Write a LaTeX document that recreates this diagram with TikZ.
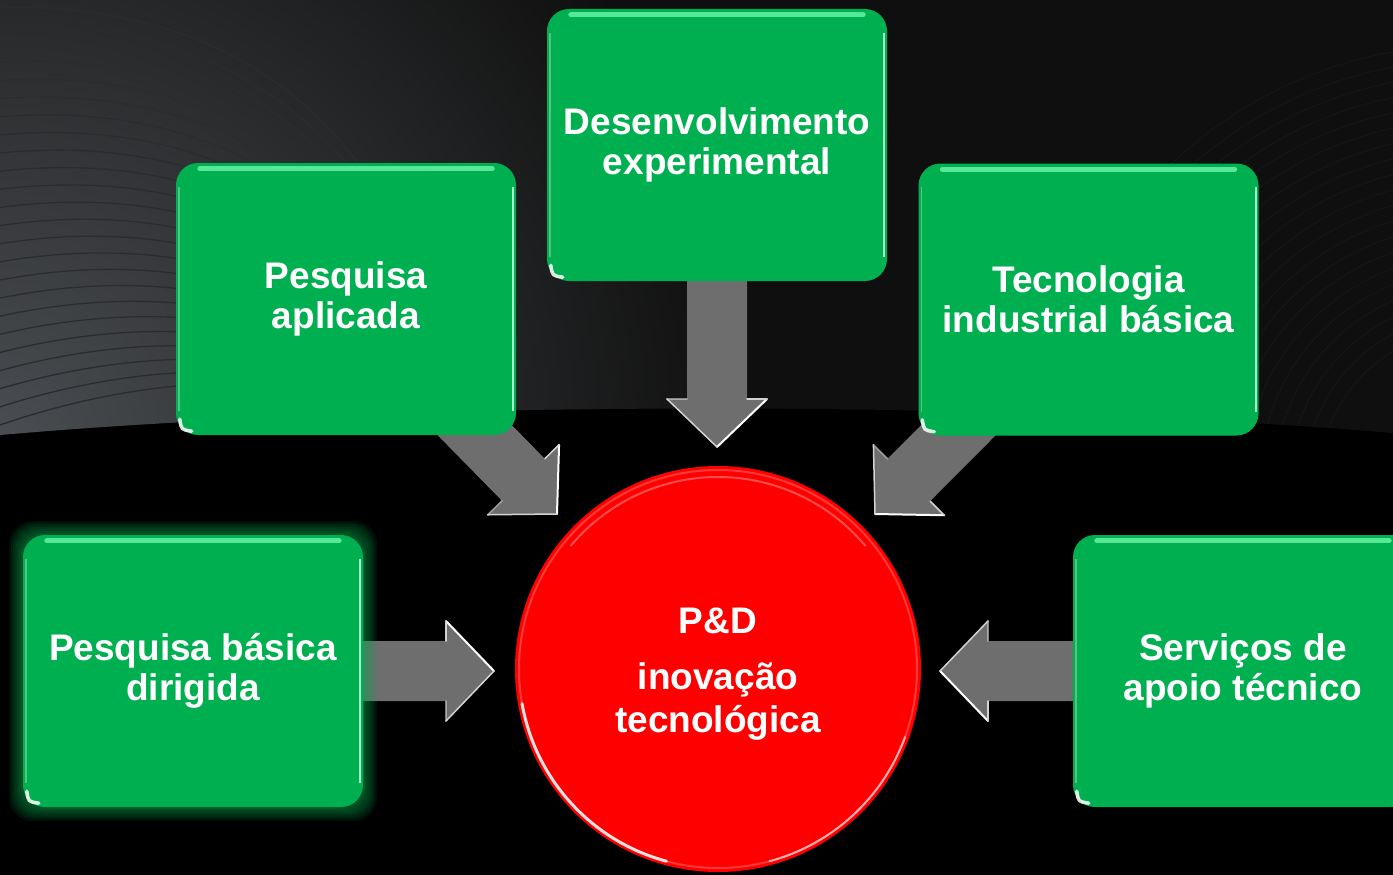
\documentclass[tikz,border=0pt]{standalone}
\usepackage{fontspec}
\setmainfont{Liberation Sans}
\usetikzlibrary{calc}
\definecolor{boxgreen}{HTML}{00B050}
\definecolor{mint}{HTML}{7CFFB8}
\definecolor{arrgray}{HTML}{6E6E6E}
\definecolor{bgA}{HTML}{4A4D51}
\definecolor{bgB}{HTML}{0F0F0F}
\definecolor{wave}{HTML}{2A2C2F}
\definecolor{wavetwo}{HTML}{161616}
\definecolor{circred}{HTML}{FF0000}
\pgfdeclarelayer{bg}
\pgfdeclarelayer{arr}
\pgfsetlayers{bg,arr,main}
\newcommand\boxfont{\fontsize{37}{39.5}\selectfont\bfseries}
\newcommand\hubfont{\fontsize{37}{43}\selectfont\bfseries}
\tikzset{
  greenbox/.style={rectangle, rounded corners=22pt, fill=boxgreen, minimum width=340pt,
    minimum height=272pt, inner sep=0pt, align=center, text=white, font=\boxfont},
  hub/.style={circle, fill=circred, minimum size=406pt, inner sep=0pt},
  hubtext/.style={align=center, text=white, font=\hubfont, inner sep=0pt},
  blockarrow/.style={fill=arrgray},
  bevel/.style={draw=white, line width=2pt, line cap=round},
  bevelsoft/.style={draw=white!70!arrgray, line width=1.5pt, line cap=round},
  waveline/.style={draw=wave, line width=1.3pt},
  glowring/.style={fill=boxgreen, opacity=0.09, rounded corners=24pt},
  cornershine/.style={draw=white, line width=3.5pt, opacity=0.85, line cap=round},
}
\newcommand\pdarrow[2]{%
  \coordinate (ba-h) at ($(#2)!48pt!(#1)$);
  \fill[blockarrow] ($(#1)!30pt!90:(#2)$) -- ($(ba-h)!30pt!90:(#2)$) -- ($(ba-h)!50pt!90:(#2)$)
     -- (#2) -- ($(ba-h)!50pt!-90:(#2)$) -- ($(ba-h)!30pt!-90:(#2)$) -- ($(#1)!30pt!-90:(#2)$) -- cycle;
  \draw[bevel] ($(ba-h)!50pt!90:(#2)$) -- (#2);
  \draw[bevelsoft] (#2) -- ($(ba-h)!50pt!-90:(#2)$);
  \draw[bevelsoft] ($(ba-h)!30pt!90:(#2)$) -- ($(ba-h)!50pt!90:(#2)$);
  \draw[bevelsoft, opacity=0.6] ($(ba-h)!30pt!-90:(#2)$) -- ($(ba-h)!50pt!-90:(#2)$);
}
\newcommand\gloss[1]{%
  \draw[mint, line width=5pt, opacity=0.7, line cap=round] ($(#1.north west)+(24,6)$) -- ($(#1.north east)+(-24,6)$);
  \draw[mint!50!white, line width=2pt, opacity=0.9] ($(#1.north east)+(-3,24)$) -- ($(#1.south east)+(-3,-24)$);
  \draw[white!60!boxgreen, line width=1.5pt, opacity=0.5] ($(#1.north west)+(3,24)$) -- ($(#1.south west)+(3,-24)$);
  \draw[cornershine] ($(#1.south west)+(4,-16)$) .. controls ($(#1.south west)+(5.5,-5.5)$) .. ($(#1.south west)+(16,-4)$);
}
\begin{document}
\begin{tikzpicture}[x=1pt,y=-1pt]
\useasboundingbox (0,0) rectangle (1393,875);
% background
\begin{pgfonlayer}{bg}
  \fill[black] (0,0) rectangle (1393,875);
  \begin{scope}
    \clip (0,0) -- (1393,0) -- (1393,433) .. controls (1000,400) and (400,400) .. (0,435) -- cycle;
    \fill[bgB] (0,0) rectangle (1393,440);
    \shade[inner color=bgA, outer color=bgB] (0,440) circle [radius=750pt];
    \foreach \i in {0,...,23}{
      \pgfmathsetmacro\t{\i/23}
      \draw[waveline] (0,{8+417*\t}) .. controls ({250-120*\t},{0+380*\t}) and ({430-130*\t},{150+210*\t}) .. ({440-40*\t},{420+5*\t});
    }
    \foreach \r in {150,165,...,440}{
      \draw[wavetwo, line width=1pt] (1470,480) circle [radius=\r];
    }
  \end{scope}
\end{pgfonlayer}
% nodes
\node[greenbox] (dev) at (717,145) {Desenvolvimento\\experimental};
\node[greenbox] (pa) at (346,299) {Pesquisa\\aplicada};
\node[greenbox] (tib) at (1088.5,299.5) {Tecnologia\\industrial básica};
\node[greenbox] (pbd) at (193,671) {Pesquisa básica\\dirigida};
\node[greenbox] (sat) at (1243,671) {Serviços de\\apoio técnico};
\node[hub] (pd) at (718,669) {};
\gloss{dev}\gloss{pa}\gloss{tib}\gloss{pbd}\gloss{sat}
\begin{scope}[shift={(pd.center)}]
  \draw[white!55!red, line width=2pt, opacity=0.4] (0,0) circle [radius=199pt];
  \draw[white, line width=3pt, opacity=0.85, line cap=round] (190:199pt) arc[start angle=190, end angle=255, radius=199pt];
  \draw[white, line width=2pt, opacity=0.6, line cap=round] (285:199pt) arc[start angle=285, end angle=340, radius=199pt];
  \draw[white, line width=2pt, opacity=0.3, line cap=round] (140:192pt) arc[start angle=140, end angle=40, radius=192pt];
\end{scope}
\node[hubtext] (pdt) at (718,674) {P\&D\\[13pt]inovação\\tecnológica};
% arrow tips
\coordinate (tN) at (717,447);
\coordinate (tNW) at (557,514);
\coordinate (tNE) at (875,514);
\coordinate (tW) at (494,671);
\coordinate (tE) at (940,671);
\begin{pgfonlayer}{arr}
  \pdarrow{dev.center}{tN}
  \pdarrow{pa.center}{tNW}
  \pdarrow{tib.center}{tNE}
  \pdarrow{pbd.center}{tW}
  \pdarrow{sat.center}{tE}
  \foreach \d in {2,4,...,14}{
    \fill[glowring] ($(pbd.north west)+(-\d,-\d)$) rectangle ($(pbd.south east)+(\d,\d)$);
  }
\end{pgfonlayer}
\end{tikzpicture}
\end{document}
